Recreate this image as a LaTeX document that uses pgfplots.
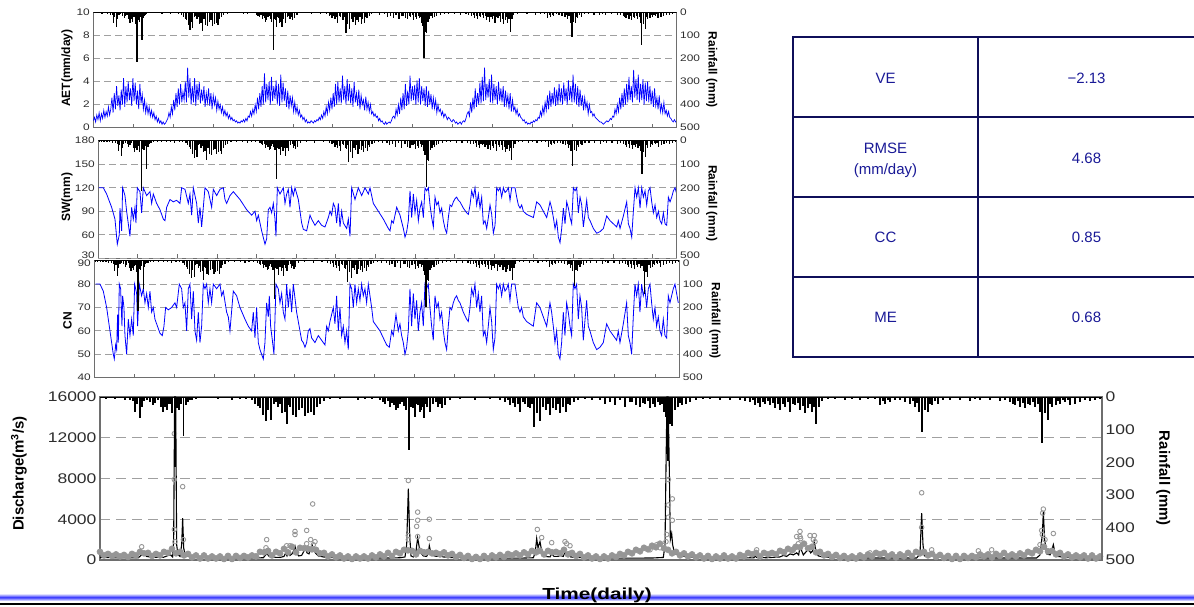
\documentclass[border=0pt]{standalone}
\usepackage{pgfplots}
\pgfplotsset{compat=1.18}
\usepackage{pgfplotstable}
\usepackage{fontspec}
\setmainfont{Liberation Sans}
\newfontfamily\tickfont{Liberation Sans}[FakeStretch=1.25]
\newfontfamily\widefont{Liberation Sans}[FakeStretch=1.3]

\definecolor{framec}{RGB}{110,110,110}
\definecolor{tickc}{RGB}{45,45,45}
\definecolor{gridc}{RGB}{160,160,160}
\definecolor{obsc}{RGB}{150,150,150}
\definecolor{tline}{RGB}{15,15,90}
\definecolor{ttext}{RGB}{25,25,150}

% ---------------- data ----------------
\pgfplotstableread[row sep=\\]{t mm\\
2 3\\ 6 5\\ 10 2\\ 15 6\\ 20 4\\ 25 8\\ 30 10\\ 33 12\\ 35 45\\ 37 20\\ 40 64\\ 42 30\\ 44 12\\ 47 8\\ 50 15\\ 53 25\\ 55 18\\ 58 10\\ 61 30\\ 63 46\\ 65 30\\ 67 40\\ 69 22\\ 70 20\\ 72 50\\ 75 214\\ 77 35\\ 79 40\\ 81 22\\ 83.6 120\\ 86 25\\ 88 15\\ 90 10\\ 92 8\\ 96 5\\ 102 4\\ 110 3\\ 118 6\\ 125 4\\ 132 8\\ 140 5\\ 146 6\\ 152 10\\ 155 20\\ 158 28\\ 160 35\\ 163 55\\ 166 75\\ 168 40\\ 171 70\\ 174 20\\ 176 15\\ 178 30\\ 180 22\\ 182 50\\ 185 45\\ 187 83\\ 189 25\\ 190 30\\ 193 55\\ 196 60\\ 199 40\\ 202 35\\ 205 58\\ 208 50\\ 211 45\\ 214 55\\ 217 30\\ 220 20\\ 224 12\\ 230 6\\ 240 5\\ 250 4\\ 258 8\\ 265 6\\ 272 5\\ 280 10\\ 283 15\\ 285 20\\ 288 12\\ 290 30\\ 292 18\\ 294 25\\ 296 40\\ 298 35\\ 300 22\\ 302 15\\ 304 28\\ 306 40\\ 309 163\\ 311 30\\ 313 35\\ 315 62\\ 317 20\\ 318 25\\ 320 45\\ 321 40\\ 323 30\\ 324 65\\ 326 20\\ 327 30\\ 330 45\\ 333 20\\ 336 15\\ 338 30\\ 340 22\\ 342 35\\ 345 25\\ 350 10\\ 360 5\\ 375 8\\ 390 6\\ 400 8\\ 405 15\\ 408 10\\ 410 25\\ 413 18\\ 415 30\\ 418 22\\ 420 45\\ 423 15\\ 425 20\\ 428 32\\ 430 35\\ 432 20\\ 434 91\\ 437 50\\ 440 73\\ 443 30\\ 446 40\\ 448 20\\ 450 55\\ 453 35\\ 456 40\\ 458 22\\ 460 50\\ 463 30\\ 466 45\\ 468 20\\ 470 25\\ 474 15\\ 478 8\\ 485 5\\ 492 10\\ 500 8\\ 505 20\\ 510 15\\ 515 25\\ 520 10\\ 525 30\\ 530 15\\ 532 15\\ 536 25\\ 540 30\\ 543 18\\ 545 20\\ 548 12\\ 550 35\\ 553 22\\ 555 30\\ 558 15\\ 560 25\\ 562 20\\ 564 45\\ 566 60\\ 568 197\\ 570 84\\ 572 88\\ 575 40\\ 578 30\\ 580 18\\ 582 25\\ 586 20\\ 590 15\\ 596 10\\ 603 6\\ 610 6\\ 620 8\\ 630 10\\ 640 8\\ 645 12\\ 650 15\\ 653 10\\ 655 25\\ 658 18\\ 660 30\\ 663 15\\ 665 20\\ 668 12\\ 670 25\\ 673 18\\ 675 35\\ 678 20\\ 680 40\\ 683 22\\ 685 30\\ 688 15\\ 690 45\\ 693 20\\ 695 25\\ 698 18\\ 700 40\\ 703 28\\ 705 50\\ 708 35\\ 710 20\\ 712 45\\ 714 30\\ 716 84\\ 719 30\\ 722 12\\ 728 6\\ 735 5\\ 745 8\\ 752 5\\ 760 10\\ 768 6\\ 775 6\\ 780 25\\ 783 12\\ 785 20\\ 788 10\\ 790 15\\ 795 8\\ 800 10\\ 805 14\\ 810 20\\ 813 12\\ 815 30\\ 817 18\\ 819 45\\ 822 107\\ 825 40\\ 828 45\\ 830 20\\ 832 25\\ 835 12\\ 838 20\\ 843 8\\ 850 8\\ 860 10\\ 870 12\\ 875 6\\ 880 10\\ 890 8\\ 900 12\\ 905 10\\ 910 15\\ 913 20\\ 915 25\\ 918 12\\ 920 30\\ 923 18\\ 925 35\\ 928 20\\ 930 25\\ 933 15\\ 935 30\\ 938 22\\ 940 45\\ 942 141\\ 945 50\\ 948 71\\ 950 20\\ 952 30\\ 956 25\\ 958 12\\ 960 20\\ 963 10\\ 965 15\\ 968 8\\ 970 25\\ 975 20\\ 980 15\\ 985 10\\ 990 12\\ 995 8\\ 1000 5\\
}\raindata

% AET, one value every 2 time units
\pgfplotstableread[row sep=\\]{aet\\
0.6\\ 0.9\\ 0.5\\ 1.1\\ 0.7\\ 1.3\\ 0.6\\ 1.2\\ 0.8\\ 1.5\\ 0.9\\ 1.4\\ 1.0\\ 1.8\\ 1.1\\
1.6\\ 2.6\\ 1.3\\ 3.0\\ 1.6\\ 3.6\\ 1.9\\ 2.8\\ 1.5\\ 3.3\\ 2.0\\ 4.3\\ 1.8\\ 3.6\\ 2.2\\ 4.0\\ 2.4\\ 3.4\\ 1.9\\ 4.3\\ 2.3\\ 3.9\\ 2.0\\ 3.2\\ 1.6\\ 3.8\\ 2.1\\ 2.9\\ 1.6\\ 2.4\\ 1.3\\ 2.0\\
1.2\\ 1.8\\ 1.0\\ 1.5\\ 0.9\\ 1.3\\ 0.7\\ 1.0\\ 0.5\\ 0.8\\ 0.4\\ 0.6\\ 0.3\\ 0.5\\ 0.3\\ 0.4\\ 0.6\\
0.8\\ 1.3\\ 0.9\\ 1.8\\ 1.2\\ 2.4\\ 1.5\\ 3.0\\ 1.8\\ 3.4\\ 2.0\\ 3.8\\ 2.2\\ 3.1\\ 2.4\\
4.0\\ 2.2\\ 5.2\\ 2.6\\ 4.3\\ 2.0\\ 3.6\\ 2.2\\ 4.3\\ 1.9\\ 3.8\\ 2.4\\ 4.0\\ 2.1\\ 3.3\\ 2.3\\ 3.6\\ 1.8\\ 3.0\\ 2.2\\ 3.4\\ 1.9\\ 3.0\\ 1.6\\ 2.8\\ 2.0\\ 2.6\\ 1.5\\ 2.3\\ 1.6\\ 2.0\\ 1.3\\ 1.8\\
1.1\\ 1.5\\ 1.0\\ 1.3\\ 0.8\\ 1.1\\ 0.7\\ 0.9\\ 0.6\\ 0.7\\ 0.5\\ 0.6\\ 0.4\\ 0.5\\ 0.4\\ 0.6\\ 0.5\\ 0.7\\ 0.5\\ 0.8\\ 0.6\\ 1.0\\ 0.9\\ 1.4\\ 1.0\\ 1.6\\ 1.2\\ 2.0\\ 1.4\\ 2.6\\ 1.6\\ 3.0\\
1.8\\ 3.6\\ 2.0\\ 4.7\\ 2.2\\ 3.8\\ 2.4\\ 4.0\\ 2.0\\ 4.4\\ 2.3\\ 3.6\\ 2.5\\ 4.1\\ 2.0\\ 3.8\\ 1.9\\ 4.6\\ 2.2\\ 3.9\\ 2.3\\ 3.4\\ 1.8\\ 3.2\\ 1.6\\ 2.8\\ 1.9\\ 2.6\\ 1.4\\ 2.2\\ 1.3\\ 1.8\\
1.1\\ 1.5\\ 0.9\\ 1.1\\ 0.7\\ 0.9\\ 0.5\\ 0.7\\ 0.4\\ 0.5\\ 0.4\\ 0.6\\ 0.5\\ 0.4\\ 0.6\\ 0.5\\ 0.7\\
0.6\\ 0.9\\ 0.7\\ 1.1\\ 0.8\\ 1.4\\ 1.0\\ 1.8\\ 1.2\\ 2.2\\ 1.5\\ 2.6\\ 1.6\\ 3.0\\ 1.8\\
3.8\\ 2.0\\ 4.0\\ 2.2\\ 3.4\\ 2.1\\ 4.5\\ 2.4\\ 3.6\\ 2.0\\ 4.2\\ 2.3\\ 3.8\\ 2.1\\ 3.4\\ 1.8\\ 4.0\\ 2.2\\ 3.0\\ 1.9\\ 3.3\\ 1.6\\ 2.8\\ 2.0\\ 2.4\\ 1.5\\ 2.7\\ 1.6\\ 2.2\\ 1.4\\ 2.0\\ 1.2\\
1.4\\ 1.0\\ 1.2\\ 0.9\\ 1.0\\ 0.6\\ 0.8\\ 0.5\\ 0.6\\ 0.4\\ 0.3\\ 0.5\\ 0.3\\ 0.4\\ 0.5\\ 0.4\\
0.6\\ 0.9\\ 1.0\\ 0.8\\ 1.6\\ 1.1\\ 2.0\\ 1.2\\ 2.6\\ 1.5\\ 3.0\\ 1.6\\ 3.8\\ 1.9\\ 3.2\\
2.0\\ 4.5\\ 2.3\\ 3.6\\ 2.4\\ 3.7\\ 2.0\\ 4.1\\ 2.2\\ 4.3\\ 2.0\\ 3.6\\ 2.3\\ 3.4\\ 1.9\\ 3.6\\ 1.8\\ 3.2\\ 2.0\\ 2.9\\ 1.6\\ 2.6\\ 1.7\\ 2.4\\ 1.3\\ 2.0\\ 1.4\\ 1.6\\ 1.1\\ 1.4\\ 0.9\\ 1.2\\ 1.0\\
0.7\\ 0.9\\ 0.8\\ 0.6\\ 0.5\\ 0.7\\ 0.6\\ 0.4\\ 0.5\\ 0.3\\ 0.4\\ 0.5\\ 0.3\\ 0.5\\ 0.6\\ 0.5\\
0.8\\ 1.2\\ 1.4\\ 1.0\\ 2.2\\ 1.3\\ 2.6\\ 1.6\\ 3.4\\ 1.8\\ 3.0\\ 2.0\\ 3.9\\ 2.1\\ 4.4\\
2.3\\ 5.2\\ 2.4\\ 3.8\\ 2.6\\ 4.2\\ 2.2\\ 4.6\\ 2.1\\ 3.8\\ 2.4\\ 3.6\\ 2.0\\ 4.0\\ 2.3\\ 3.4\\ 2.2\\ 3.6\\ 1.8\\ 3.2\\ 2.0\\ 2.8\\ 1.6\\ 3.0\\ 1.4\\ 2.4\\ 1.5\\ 1.8\\ 1.2\\ 1.6\\ 1.0\\ 1.2\\ 0.9\\
0.8\\ 0.6\\ 0.7\\ 0.4\\ 0.5\\ 0.3\\ 0.4\\ 0.3\\ 0.5\\ 0.4\\ 0.6\\ 0.5\\ 0.7\\ 0.6\\ 0.9\\ 0.8\\
1.4\\ 1.0\\ 1.8\\ 1.2\\ 2.2\\ 1.5\\ 2.8\\ 1.6\\ 3.2\\ 1.8\\ 3.0\\ 2.0\\ 3.5\\ 1.9\\ 3.3\\ 2.0\\
3.8\\ 2.2\\ 3.4\\ 2.0\\ 3.9\\ 2.3\\ 3.4\\ 2.0\\ 4.1\\ 2.4\\ 3.6\\ 2.2\\ 4.6\\ 2.2\\ 3.8\\ 2.0\\ 3.6\\ 1.8\\ 3.3\\ 1.9\\ 2.8\\ 1.5\\ 2.6\\ 1.7\\ 2.2\\ 1.2\\ 2.0\\ 1.3\\ 1.4\\ 1.0\\ 1.2\\ 0.9\\
0.8\\ 0.7\\ 0.6\\ 0.5\\ 0.5\\ 0.4\\ 0.3\\ 0.4\\ 0.5\\ 0.6\\ 0.5\\ 0.6\\ 0.8\\ 0.7\\ 1.0\\ 0.9\\
1.6\\ 1.2\\ 2.0\\ 1.4\\ 2.6\\ 1.6\\ 3.0\\ 1.8\\ 3.4\\ 2.0\\ 3.8\\ 2.2\\ 4.4\\ 2.4\\ 3.6\\ 2.2\\
5.0\\ 2.6\\ 4.2\\ 2.4\\ 4.6\\ 2.2\\ 3.8\\ 2.4\\ 4.2\\ 2.0\\ 3.9\\ 2.3\\ 4.0\\ 2.2\\ 3.6\\ 2.0\\ 3.2\\ 1.8\\ 3.4\\ 1.9\\ 2.6\\ 1.6\\ 2.8\\ 1.4\\ 2.0\\ 1.3\\ 2.2\\ 1.2\\ 1.5\\ 1.0\\ 1.4\\ 0.9\\
0.8\\ 0.6\\ 0.5\\ 0.7\\ 0.5\\ 0.6\\
}\aetdata

\pgfplotstableread[row sep=\\]{X sw\\
297 120\\ 310 120\\ 320 112\\ 335 95\\ 345 80\\ 352 48\\ 358 60\\ 360 94\\ 365 65\\ 368 120\\ 375 110\\ 380 90\\ 390 58\\ 395 95\\ 400 80\\ 405 95\\ 408 75\\ 412 120\\ 420 115\\ 425 88\\ 430 120\\ 440 110\\ 450 115\\ 455 100\\ 460 112\\ 470 100\\ 480 92\\ 490 80\\ 495 78\\ 500 95\\ 510 105\\ 520 102\\ 530 104\\ 540 100\\ 545 120\\ 555 118\\ 565 100\\ 570 112\\ 575 85\\ 580 120\\ 590 100\\ 595 75\\ 600 95\\ 605 70\\ 615 120\\ 625 115\\ 635 95\\ 640 118\\ 650 110\\ 660 118\\ 670 120\\ 675 105\\ 680 100\\ 690 110\\ 700 115\\ 720 105\\ 740 92\\ 755 85\\ 765 90\\ 770 78\\ 775 85\\ 785 65\\ 795 48\\ 800 55\\ 805 92\\ 810 95\\ 815 88\\ 820 100\\ 825 80\\ 828 58\\ 832 120\\ 840 112\\ 850 120\\ 855 100\\ 860 112\\ 865 118\\ 870 95\\ 875 120\\ 880 110\\ 885 120\\ 895 105\\ 900 90\\ 905 75\\ 910 67\\ 920 65\\ 930 85\\ 935 80\\ 945 72\\ 955 78\\ 965 72\\ 975 70\\ 985 82\\ 990 90\\ 995 85\\ 1000 100\\ 1005 95\\ 1010 75\\ 1015 100\\ 1020 70\\ 1025 90\\ 1030 75\\ 1040 68\\ 1045 80\\ 1050 58\\ 1055 120\\ 1065 105\\ 1075 120\\ 1085 110\\ 1095 120\\ 1105 112\\ 1110 120\\ 1120 100\\ 1135 90\\ 1150 80\\ 1165 68\\ 1170 65\\ 1175 78\\ 1180 75\\ 1190 95\\ 1200 85\\
1210 68\\ 1215 57\\ 1220 64\\ 1225 78\\ 1230 116\\ 1235 82\\ 1240 112\\ 1245 88\\ 1250 104\\ 1255 78\\ 1260 94\\ 1265 102\\ 1270 82\\ 1275 120\\ 1280 116\\ 1285 120\\ 1290 98\\ 1295 82\\ 1300 70\\ 1305 108\\ 1310 98\\ 1315 102\\ 1320 88\\ 1325 94\\ 1330 78\\ 1335 68\\ 1340 62\\ 1345 82\\ 1350 98\\ 1355 96\\ 1360 102\\ 1365 106\\ 1370 108\\ 1375 104\\ 1380 102\\ 1385 98\\ 1390 94\\ 1400 88\\ 1405 86\\ 1410 98\\ 1415 116\\ 1420 108\\ 1425 120\\ 1430 98\\ 1435 112\\ 1440 94\\ 1445 108\\ 1450 74\\ 1455 78\\ 1460 68\\ 1465 82\\ 1470 98\\ 1475 86\\ 1480 62\\ 1485 72\\ 1490 120\\ 1495 116\\ 1500 120\\ 1505 108\\ 1510 120\\ 1515 114\\ 1520 116\\ 1525 120\\ 1530 104\\ 1535 120\\ 1540 120\\ 1545 120\\ 1550 108\\ 1555 98\\ 1560 94\\ 1565 98\\ 1570 90\\ 1580 86\\ 1590 84\\ 1600 82\\ 1610 102\\ 1620 98\\ 1630 90\\ 1640 82\\ 1650 102\\ 1655 94\\ 1660 82\\ 1665 68\\ 1670 78\\ 1675 57\\ 1680 50\\ 1685 68\\ 1690 94\\ 1695 74\\ 1700 102\\ 1705 94\\ 1710 82\\ 1715 74\\ 1720 120\\ 1725 116\\ 1730 120\\ 1735 88\\ 1740 108\\ 1745 98\\ 1750 70\\ 1760 104\\ 1765 82\\ 1770 78\\ 1780 68\\ 1790 62\\ 1800 64\\ 1810 68\\ 1820 84\\ 1830 78\\ 1840 74\\ 1850 70\\ 1855 78\\ 1860 68\\ 1870 84\\ 1880 102\\ 1885 74\\ 1890 68\\ 1895 57\\ 1900 90\\ 1905 120\\ 1910 108\\ 1915 120\\ 1920 94\\ 1925 120\\ 1930 108\\ 1935 116\\ 1940 98\\ 1945 116\\ 1950 120\\ 1955 102\\ 1960 88\\ 1965 98\\ 1970 82\\ 1975 90\\ 1980 78\\ 1985 74\\ 1990 88\\ 1995 74\\ 2000 72\\ 2005 108\\ 2010 102\\ 2015 108\\ 2020 116\\ 2025 120\\ 2030 112\\
}\swdata

\pgfplotstableread[row sep=\\]{X cn\\
287 80\\ 300 80\\ 310 77\\ 320 70\\ 330 60\\ 340 50\\ 343 48\\ 347 54\\ 350 52\\ 353 67\\ 355 55\\ 358 80\\ 362 78\\ 366 62\\ 368 75\\ 372 70\\ 375 58\\ 380 50\\ 385 65\\ 390 58\\ 395 65\\ 400 58\\ 404 80\\ 410 76\\ 413 62\\ 418 80\\ 425 75\\ 430 78\\ 435 72\\ 440 76\\ 445 70\\ 450 77\\ 455 68\\ 460 70\\ 465 65\\ 470 63\\ 480 59\\ 487 58\\ 492 62\\ 497 70\\ 505 69\\ 515 70\\ 525 72\\ 530 70\\ 538 80\\ 545 78\\ 550 70\\ 555 72\\ 560 60\\ 565 78\\ 570 80\\ 575 65\\ 580 77\\ 585 60\\ 590 56\\ 595 68\\ 600 55\\ 605 62\\ 610 80\\ 615 78\\ 620 80\\ 625 72\\ 630 78\\ 635 72\\ 640 80\\ 650 78\\ 660 80\\ 665 75\\ 670 77\\ 680 68\\ 685 66\\ 690 60\\ 700 77\\ 710 75\\ 720 70\\ 735 65\\ 745 62\\ 755 60\\ 760 68\\ 765 57\\ 770 70\\ 775 55\\ 780 52\\ 785 50\\ 790 48\\ 795 55\\ 800 72\\ 805 66\\ 808 75\\ 812 62\\ 818 55\\ 822 50\\ 828 80\\ 835 78\\ 840 72\\ 845 76\\ 850 68\\ 855 65\\ 860 80\\ 865 70\\ 870 78\\ 875 68\\ 880 80\\ 890 68\\ 900 60\\ 905 56\\ 910 55\\ 915 53\\ 920 55\\ 925 60\\ 930 61\\ 935 57\\ 945 55\\ 955 58\\ 965 56\\ 975 54\\ 980 62\\ 985 60\\ 990 64\\ 995 67\\ 1000 70\\ 1005 63\\ 1010 75\\ 1015 60\\ 1020 70\\ 1025 58\\ 1030 62\\ 1035 55\\ 1040 60\\ 1045 52\\ 1050 80\\ 1055 78\\ 1060 70\\ 1065 80\\ 1070 72\\ 1075 78\\ 1080 73\\ 1085 80\\ 1090 75\\ 1095 78\\ 1100 72\\ 1105 80\\ 1110 75\\ 1115 70\\ 1120 64\\ 1130 62\\
1140 60\\ 1150 57\\ 1160 54\\ 1168 53\\ 1175 60\\ 1180 58\\ 1188 67\\ 1195 60\\ 1200 63\\ 1205 58\\ 1210 55\\ 1215 50\\ 1220 53\\ 1225 60\\ 1230 78\\ 1235 62\\ 1240 76\\ 1245 65\\ 1250 73\\ 1255 60\\ 1260 68\\ 1265 72\\ 1270 62\\ 1275 80\\ 1280 78\\ 1285 80\\ 1290 70\\ 1295 62\\ 1300 56\\ 1305 75\\ 1310 70\\ 1315 72\\ 1320 65\\ 1325 68\\ 1330 60\\ 1335 55\\ 1340 52\\ 1345 62\\ 1350 70\\ 1355 69\\ 1360 72\\ 1365 74\\ 1370 75\\ 1375 73\\ 1380 72\\ 1385 70\\ 1390 68\\ 1400 65\\ 1405 64\\ 1410 70\\ 1415 78\\ 1420 75\\ 1425 80\\ 1430 70\\ 1435 76\\ 1440 68\\ 1445 75\\ 1450 58\\ 1455 60\\ 1460 55\\ 1465 62\\ 1470 70\\ 1475 64\\ 1480 52\\ 1485 57\\ 1490 80\\ 1495 78\\ 1500 80\\ 1505 75\\ 1510 80\\ 1515 77\\ 1520 78\\ 1525 80\\ 1530 73\\ 1535 80\\ 1540 80\\ 1545 80\\ 1550 75\\ 1555 70\\ 1560 68\\ 1565 70\\ 1570 66\\ 1580 64\\ 1590 63\\ 1600 62\\ 1610 72\\ 1620 70\\ 1630 66\\ 1640 62\\ 1650 72\\ 1655 68\\ 1660 62\\ 1665 55\\ 1670 60\\ 1675 50\\ 1680 48\\ 1685 55\\ 1690 68\\ 1695 58\\ 1700 72\\ 1705 68\\ 1710 62\\ 1715 58\\ 1720 80\\ 1725 78\\ 1730 80\\ 1735 65\\ 1740 75\\ 1745 70\\ 1750 56\\ 1760 73\\ 1765 62\\ 1770 60\\ 1780 55\\ 1790 52\\ 1800 53\\ 1810 55\\ 1820 63\\ 1830 60\\ 1840 58\\ 1850 56\\ 1855 60\\ 1860 55\\ 1870 63\\ 1880 72\\ 1885 58\\ 1890 55\\ 1895 50\\ 1900 66\\ 1905 80\\ 1910 75\\ 1915 80\\ 1920 68\\ 1925 80\\ 1930 75\\ 1935 78\\ 1940 70\\ 1945 78\\ 1950 80\\ 1955 72\\ 1960 65\\ 1965 70\\ 1970 62\\ 1975 66\\ 1980 60\\ 1985 58\\ 1990 65\\ 1995 58\\ 2000 57\\ 2005 75\\ 2010 72\\ 2015 75\\ 2020 78\\ 2025 80\\ 2030 76\\ 2035 72\\
}\cndata

\pgfplotstableread[row sep=\\]{X q\\
300 250\\ 340 220\\ 380 200\\ 415 220\\ 425 500\\ 432 600\\ 440 350\\ 460 250\\ 490 260\\ 505 450\\ 512 500\\ 518 300\\ 521 2000\\ 524 16000\\ 527 16000\\ 530 1500\\ 534 500\\ 540 350\\ 545 1500\\ 548 4100\\ 551 1200\\ 555 500\\ 565 350\\ 580 280\\ 620 230\\ 680 200\\ 740 190\\ 790 220\\ 797 500\\ 801 650\\ 806 400\\ 812 280\\ 840 250\\ 852 350\\ 857 700\\ 861 400\\ 866 800\\ 870 450\\ 876 600\\ 881 900\\ 885 1350\\ 890 700\\ 896 400\\ 905 450\\ 912 900\\ 916 1200\\ 921 700\\ 927 600\\ 932 1100\\ 936 1500\\ 940 1100\\ 946 700\\ 955 400\\ 970 300\\ 1000 230\\ 1060 200\\ 1120 190\\ 1170 200\\ 1200 220\\
1215 300\\ 1220 1500\\ 1225 7000\\ 1229 2500\\ 1233 400\\ 1240 300\\ 1247 600\\ 1253 2200\\ 1258 1200\\ 1262 700\\ 1270 400\\ 1280 350\\ 1285 700\\ 1288 1400\\ 1292 800\\ 1298 450\\ 1310 350\\ 1320 400\\ 1330 300\\ 1350 250\\ 1400 210\\ 1480 190\\ 1560 180\\ 1600 220\\ 1606 800\\ 1610 2100\\ 1614 1200\\ 1620 1800\\ 1626 700\\ 1635 350\\ 1650 300\\ 1655 600\\ 1662 350\\ 1675 350\\ 1680 450\\ 1690 350\\ 1695 800\\ 1700 500\\ 1707 800\\ 1712 300\\ 1725 250\\ 1800 200\\ 1900 180\\ 1960 200\\ 1990 250\\ 1995 1500\\ 1998 9000\\ 2001 16000\\ 2004 16000\\ 2008 9000\\ 2011 2000\\ 2015 2600\\ 2018 1500\\ 2024 600\\ 2040 450\\ 2060 300\\ 2100 250\\ 2200 200\\ 2262 220\\ 2265 400\\ 2270 250\\ 2300 220\\ 2340 300\\ 2350 450\\ 2360 350\\ 2370 600\\ 2380 500\\ 2390 700\\ 2396 500\\ 2400 1300\\ 2405 900\\ 2410 500\\ 2418 800\\ 2425 1100\\ 2432 700\\ 2438 900\\ 2443 1800\\ 2448 800\\ 2455 400\\ 2470 300\\ 2500 250\\ 2600 200\\ 2700 190\\ 2750 200\\ 2760 600\\ 2765 4600\\ 2769 1500\\ 2773 400\\ 2785 350\\ 2795 800\\ 2800 500\\ 2810 300\\ 2850 230\\ 2950 200\\ 3050 190\\ 3110 200\\ 3120 500\\ 3127 2500\\ 3130 4700\\ 3134 2000\\ 3140 600\\ 3150 500\\ 3155 900\\ 3160 1500\\ 3165 700\\ 3172 350\\ 3200 250\\ 3250 200\\ 3306 190\\
}\simq

\pgfplotstableread[row sep=\\]{X q\\
425 1300\\ 523 12400\\ 523 7900\\ 523 3000\\ 525 1800\\ 548 7200\\ 550 2000\\ 798 1200\\ 800 2000\\ 805 800\\ 860 1400\\ 870 1400\\ 885 2800\\ 885 2500\\ 920 2900\\ 920 1600\\ 938 5500\\ 932 2000\\ 945 1800\\ 940 1500\\
1225 7800\\ 1225 2400\\ 1225 2000\\ 1253 4700\\ 1253 3900\\ 1250 3300\\ 1253 2300\\ 1288 4000\\ 1288 2100\\ 1612 3000\\ 1625 2200\\ 1655 1700\\ 1695 1800\\ 1700 1600\\ 1710 1400\\ 1950 1000\\ 1960 1300\\ 1970 1500\\ 1980 1200\\ 1990 1400\\ 2005 7900\\ 2005 5400\\ 2017 6000\\ 2017 3900\\ 2005 4200\\ 2000 2500\\ 1998 1800\\ 2270 1000\\ 2380 1000\\ 2390 2300\\ 2395 1600\\
2385 1300\\ 2400 2800\\ 2400 2300\\ 2402 2100\\ 2430 2400\\ 2440 2000\\ 2445 1800\\ 2443 2400\\ 2610 700\\ 2765 6600\\ 2765 3200\\ 2795 1000\\ 2935 900\\ 2975 1000\\ 3130 5000\\ 3128 4600\\ 3125 2900\\ 3127 2500\\ 3135 2000\\ 3160 2600\\ 3120 1500\\
}\obspeak

% observed baseline, one value every 4 time units
\pgfplotstableread[row sep=\\]{q\\
800\\ 450\\ 600\\ 400\\ 550\\ 350\\ 500\\ 300\\ 600\\ 450\\
800\\ 650\\ 700\\ 400\\ 600\\ 450\\ 800\\ 700\\ 1100\\ 650\\
800\\ 450\\ 600\\ 250\\ 450\\ 150\\ 450\\ 150\\ 350\\ 150\\
350\\ 100\\ 400\\ 100\\ 400\\ 200\\ 400\\ 250\\ 450\\ 350\\
800\\ 750\\ 900\\ 450\\ 800\\ 650\\ 1100\\ 750\\ 1300\\ 750\\
1200\\ 1150\\ 1100\\ 1050\\ 1000\\ 650\\ 700\\ 350\\ 550\\ 250\\
450\\ 150\\ 350\\ 100\\ 350\\ 150\\ 350\\ 150\\ 450\\ 250\\
550\\ 350\\ 700\\ 400\\ 800\\ 650\\ 1000\\ 950\\ 900\\ 550\\
900\\ 750\\ 800\\ 650\\ 700\\ 550\\ 750\\ 450\\ 600\\ 300\\
500\\ 200\\ 400\\ 100\\ 300\\ 100\\ 400\\ 150\\ 450\\ 250\\
500\\ 300\\ 600\\ 450\\ 650\\ 450\\ 750\\ 550\\ 900\\ 750\\
900\\ 550\\ 900\\ 750\\ 800\\ 650\\ 1000\\ 550\\ 700\\ 400\\
600\\ 250\\ 450\\ 150\\ 350\\ 100\\ 350\\ 150\\ 450\\ 300\\
600\\ 450\\ 800\\ 650\\ 1000\\ 850\\ 1200\\ 1050\\ 1400\\ 1250\\
1600\\ 1150\\ 1000\\ 650\\ 800\\ 450\\ 650\\ 350\\ 550\\ 250\\
450\\ 150\\ 400\\ 100\\ 350\\ 150\\ 450\\ 150\\ 350\\ 150\\
500\\ 350\\ 700\\ 550\\ 700\\ 350\\ 700\\ 550\\ 700\\ 550\\
900\\ 750\\ 1100\\ 950\\ 1300\\ 1250\\ 1600\\ 1150\\ 1300\\ 750\\
800\\ 450\\ 600\\ 300\\ 500\\ 200\\ 400\\ 150\\ 350\\ 150\\
450\\ 250\\ 550\\ 350\\ 700\\ 550\\ 700\\ 350\\ 550\\ 250\\
550\\ 350\\ 700\\ 400\\ 800\\ 650\\ 800\\ 450\\ 600\\ 300\\
500\\ 200\\ 400\\ 100\\ 400\\ 100\\ 400\\ 200\\ 400\\ 250\\
550\\ 350\\ 550\\ 250\\ 600\\ 400\\ 700\\ 350\\ 550\\ 350\\
650\\ 450\\ 800\\ 650\\ 1000\\ 850\\ 1300\\ 850\\ 900\\ 550\\
700\\ 350\\ 550\\ 250\\ 450\\ 250\\ 450\\ 150\\ 450\\ 150\\ 350\\
}\obsbase

% ---------------- styles ----------------
\pgfplotsset{
  base/.style={scale only axis, anchor=south west, xmin=0, xmax=1002,
    axis line style={draw=framec, line width=1.3pt},
    /pgf/number format/assume math mode=true, /pgf/number format/1000 sep={},
    scaled y ticks=false, yticklabel style={text=tickc}, ytick style={draw=none}},
  topL/.style={base,
    xtick={68.5,137.1,205.7,274.3,342.9,411.5,480.1,548.7,617.3,685.9,754.5,823.1,891.7,960.3},
    xticklabels={}, xtick pos=left, xtick align=inside, major tick length=4pt,
    xtick style={draw=framec, line width=0.9pt},
    ymajorgrids, grid style={gridc, line width=0.8pt, dash pattern=on 7pt off 4pt},
    yticklabel style={font=\tickfont\fontsize{9.5}{10}\selectfont}},
  topR/.style={base, ymin=0, ymax=500, y dir=reverse,
    axis y line*=right, hide x axis,
    yticklabel style={font=\tickfont\fontsize{9.5}{10}\selectfont}},
  rainplot/.style={ycomb, black, line width=1.2pt},
  ylab/.style={every axis y label/.style={at={(axis description cs:#1)}, anchor=center, rotate=90, font=\bfseries\fontsize{12}{12}\selectfont}},
  rlab/.style={every axis y label/.style={at={(axis description cs:#1)}, anchor=center, rotate=-90, font=\bfseries\fontsize{12}{12}\selectfont}},
}

\begin{document}
\begin{tikzpicture}
\useasboundingbox (0,0) rectangle (1194pt,607pt);

% ===== Panel 1: AET =====
\begin{axis}[topL, at={(93.3pt,479.3pt)}, width=583.4pt, height=115.4pt,
  ymin=0, ymax=10, ytick={0,2,...,10}, ylabel={AET(mm/day)}, ylab={-0.045,0.517}]
\addplot[blue, line width=0.7pt] table[x expr=\coordindex*2, y index=0] \aetdata;
\end{axis}
\begin{axis}[topR, at={(93.3pt,479.3pt)}, width=583.4pt, height=115.4pt,
  ytick={0,100,...,500}, ylabel={Rainfall (mm)}, rlab={1.06,0.5}]
\addplot[rainplot] table[x=t, y=mm] \raindata;
\draw[black, line width=1.2pt] (axis cs:0,0) -- (axis cs:1002,0);
\end{axis}

% ===== Panel 2: SW =====
\begin{axis}[topL, at={(98.3pt,348.7pt)}, width=578.4pt, height=117.6pt,
  ymin=30, ymax=180, ytick={60,90,...,180}, extra y ticks={30},
  extra y tick style={yticklabel style={yshift=3pt}},
  ylabel={SW(mm)}, ylab={-0.054,0.52}]
\addplot[blue, line width=0.8pt] table[x expr={(\thisrow{X}-295)/1.7315}, y=sw] \swdata;
\end{axis}
\begin{axis}[topR, at={(98.3pt,348.7pt)}, width=578.4pt, height=117.6pt,
  ytick={0,100,...,400}, extra y ticks={500}, extra y tick style={yticklabel style={yshift=3pt}},
  ylabel={Rainfall (mm)}, rlab={1.0605,0.47}]
\addplot[rainplot] table[x=t, y=mm] \raindata;
\draw[black, line width=1.2pt] (axis cs:0,0) -- (axis cs:1002,0);
\end{axis}

% ===== Panel 3: CN =====
\begin{axis}[topL, at={(94.3pt,229.3pt)}, width=585pt, height=117pt,
  ymin=40, ymax=90, ytick={40,50,...,80}, extra y ticks={90},
  extra y tick style={yticklabel style={yshift=-3pt}},
  ylabel={CN}, ylab={-0.0458,0.49}]
\addplot[blue, line width=0.8pt] table[x expr={(\thisrow{X}-283)/1.7515}, y=cn] \cndata;
\end{axis}
\begin{axis}[topR, at={(94.3pt,229.3pt)}, width=585pt, height=117pt,
  ytick={100,200,...,500}, extra y ticks={0}, extra y tick style={yticklabel style={yshift=-3pt}},
  ylabel={Rainfall (mm)}, rlab={1.061,0.485}]
\addplot[rainplot] table[x=t, y=mm] \raindata;
\draw[black, line width=1.2pt] (axis cs:0,0) -- (axis cs:1002,0);
\end{axis}

% ===== Panel 4: Discharge =====
\begin{axis}[base, at={(100pt,47pt)}, width=1002pt, height=163pt,
  ymin=0, ymax=16000, ytick={0,4000,...,16000}, xtick=\empty,
  ymajorgrids, grid style={gridc, line width=0.9pt, dash pattern=on 10pt off 6pt},
  yticklabel style={font=\tickfont\fontsize{14}{14}\selectfont},
  ylabel={Discharge(m\textsuperscript{3}/s)},
  every axis y label/.style={at={(axis description cs:-0.081,0.53)}, anchor=center, rotate=90, font=\bfseries\fontsize{15}{15}\selectfont}]
\addplot[only marks, mark=*, mark size=3pt, draw=obsc, fill=obsc, line width=0.6pt] table[x expr=\coordindex*4, y index=0] \obsbase;
\addplot[only marks, mark=o, mark size=2.3pt, obsc, line width=0.9pt] table[x expr={\thisrow{X}/3-100}, y=q] \obspeak;
\addplot[black, line width=1.1pt] table[x expr={\thisrow{X}/3-100}, y=q] \simq;
\end{axis}
\begin{axis}[base, at={(100pt,47pt)}, width=1002pt, height=163pt,
  ymin=0, ymax=500, y dir=reverse, ytick={0,100,...,500}, axis y line*=right, hide x axis,
  yticklabel style={font=\tickfont\fontsize{14}{14}\selectfont},
  ylabel={Rainfall (mm)},
  every axis y label/.style={at={(axis description cs:1.061,0.5)}, anchor=center, rotate=-90, font=\bfseries\fontsize{15}{15}\selectfont}]
\addplot[ycomb, black, line width=1.3pt] table[x=t, y=mm] \raindata;
\draw[black, line width=1.3pt] (axis cs:0,0) -- (axis cs:1002,0);
\end{axis}

% ===== Statistics table =====
\begin{scope}[line width=2pt, draw=tline]
  \draw (1196pt,570pt) -- (792.7pt,570pt) -- (792.7pt,250pt) -- (1196pt,250pt);
  \draw (792.7pt,490pt) -- (1196pt,490pt);
  \draw (792.7pt,410pt) -- (1196pt,410pt);
  \draw (792.7pt,330pt) -- (1196pt,330pt);
  \draw (977.7pt,570pt) -- (977.7pt,250pt);
\end{scope}
\begin{scope}[every node/.style={text=ttext, font=\fontsize{15}{15}\selectfont, anchor=center, inner sep=0pt}]
  \node at (885.5pt,529pt) {VE};
  \node at (1086.5pt,529pt) {−2.13};
  \node at (885.5pt,459pt) {RMSE};
  \node at (885.5pt,436pt) {(mm/day)};
  \node at (1086.5pt,449pt) {4.68};
  \node at (885.5pt,370pt) {CC};
  \node at (1086.5pt,370pt) {0.85};
  \node at (885.5pt,290pt) {ME};
  \node at (1086.5pt,290pt) {0.68};
\end{scope}

% ===== bottom band and time label =====
\shade[top color=blue!12, bottom color=blue!12, middle color=blue!80] (0pt,6.5pt) rectangle (1194pt,13pt);
\draw[black, line width=2pt] (0pt,2.5pt) -- (1194pt,2.5pt);
\node[anchor=base, inner sep=0pt, font=\widefont\bfseries\fontsize{16}{16}\selectfont] at (597pt,7pt) {Time(daily)};
\end{tikzpicture}
\end{document}
